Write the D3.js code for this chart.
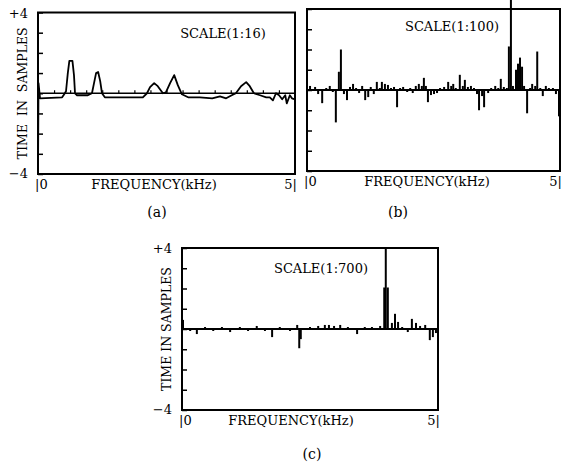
<!DOCTYPE html>
<html>
<head>
<meta charset="utf-8">
<script src="https://cdn.jsdelivr.net/npm/d3@7"></script>
<style>
body { margin: 0; background: #fff; }
text { font-family: "DejaVu Serif", "Liberation Serif", serif; fill: #000; }
</style>
</head>
<body>
<div id="chart"></div>
<script>
// (a) smoothed curve, frequency in kHz / time in samples
var freqA = [0, 0.01, 0.04, 0.47, 0.51, 0.545, 0.58, 0.61, 0.67, 0.70, 0.72, 0.76, 0.97, 1.05, 1.09, 1.13, 1.17, 1.21, 1.245, 1.30,
  2.04, 2.12, 2.18, 2.26, 2.33, 2.43, 2.49, 2.57, 2.65, 2.72, 2.80, 2.92, 3.15, 3.39, 3.54, 3.66, 3.77, 3.85, 3.95, 4.05,
  4.12, 4.20, 4.32, 4.44, 4.51, 4.57, 4.63, 4.69, 4.75, 4.81, 4.84, 4.90, 4.94, 5.0];
var valA = [-4, 0.5, -0.25, -0.2, -0.05, 0.1, 1.0, 1.6, 1.6, 0.9, 0.0, -0.1, -0.1, 0.0, 0.5, 1.0, 1.05, 0.6, 0.0, -0.2,
  -0.2, 0.0, 0.3, 0.5, 0.35, 0.0, 0.05, 0.5, 0.9, 0.4, -0.05, -0.2, -0.2, -0.25, -0.15, -0.25, -0.1, 0.0, 0.35, 0.55,
  0.35, 0.0, -0.1, -0.2, -0.2, -0.35, 0.0, -0.1, -0.3, -0.1, -0.5, -0.1, -0.25, -0.3];

// (b) spikes
var freqB = [0.06, 0.16, 0.22, 0.30, 0.38, 0.45, 0.51, 0.57, 0.63, 0.67, 0.73, 0.79, 0.85, 0.91, 0.97, 1.03, 1.09, 1.15, 1.21, 1.26,
  1.32, 1.38, 1.44, 1.48, 1.54, 1.60, 1.66, 1.72, 1.78, 1.84, 1.90, 1.98, 2.04, 2.09, 2.15, 2.21, 2.27, 2.31, 2.35, 2.39,
  2.45, 2.51, 2.57, 2.63, 2.71, 2.79, 2.85, 2.89, 2.94, 3.02, 3.08, 3.12, 3.18, 3.24, 3.30, 3.36, 3.40, 3.46, 3.50, 3.58,
  3.64, 3.72, 3.78, 3.83, 3.89, 3.95, 3.99, 4.03, 4.07, 4.13, 4.17, 4.21, 4.25, 4.29, 4.35, 4.41, 4.45, 4.51, 4.55, 4.61,
  4.66, 4.72, 4.78, 4.86, 4.92, 4.98, 5.0];
var valB = [0.2, 0.15, -0.2, -0.65, 0.1, 0.2, -0.1, -1.6, 0.9, 2.0, -0.2, -0.5, 0.15, 0.3, 0.1, -0.15, 0.2, -0.5, -0.35, 0.15,
  -0.2, 0.4, 0.1, 0.4, 0.3, 0.25, 0.1, 0.15, -0.85, 0.1, 0.15, -0.1, 0.1, -0.15, 0.2, 0.3, 0.2, 0.6, 0.2, -0.6,
  -0.25, -0.2, -0.15, 0.1, 0.15, 0.4, 0.2, 0.3, 0.1, 0.75, 0.2, 0.5, 0.15, 0.2, 0.1, -0.2, -1.0, -0.3, -0.85, -0.15,
  0.1, 0.2, 0.1, 0.55, 0.15, 0.1, 2.15, 4.45, 0.2, 1.0, 1.3, 1.6, 1.15, 0.2, -1.15, 0.1, 0.3, 0.2, 1.9, 0.1,
  -0.3, 0.2, 0.1, 0.1, -0.2, -1.3, -0.5];

// (c) spikes
var freqC = [0.02, 0.16, 0.29, 0.45, 0.61, 0.78, 0.94, 1.13, 1.29, 1.46, 1.62, 1.76, 1.91, 2.11, 2.25, 2.29, 2.32, 2.50, 2.66, 2.79,
  2.87, 2.97, 3.09, 3.24, 3.42, 3.57, 3.71, 3.87, 3.95, 3.98, 4.02, 4.10, 4.16, 4.22, 4.30, 4.41, 4.49, 4.57, 4.65, 4.75,
  4.84, 4.90, 4.96];
var valC = [0.45, -0.1, -0.25, 0.1, -0.1, 0.1, -0.15, 0.1, -0.1, 0.15, -0.1, -0.4, 0.1, -0.1, 0.2, -0.95, -0.5, 0.1, 0.15, 0.2,
  0.2, 0.15, 0.2, 0.1, -0.25, 0.1, 0.1, 0.15, 2.05, 4.0, 2.05, 0.3, 0.75, 0.35, 0.1, -0.15, 0.5, 0.3, 0.15, 0.2,
  -0.55, -0.4, -0.2];

var yTicks = [-4, -3, -2, -1, 0, 1, 2, 3, 4];
var yTickLabels = ["+4", "\u22124"];
var xTickLabels = ["|0", "5|"];
var xTitle = "FREQUENCY(kHz)";
var yTitle = "TIME IN SAMPLES";
var scaleLabels = ["SCALE(1:16)", "SCALE(1:100)", "SCALE(1:700)"];
var captions = ["(a)", "(b)", "(c)"];

var svg = d3.select('#chart').append('svg').attr('width', 562).attr('height', 466);

var panels = [
  {left: 38, right: 295, top: 12.5, bottom: 174, yLabel: true, cap: [157, 217], scl: [223, 38], tx: 154, kind: 'curve'},
  {left: 307, right: 560, top: 9, bottom: 171, yLabel: false, cap: [398, 217], scl: [452, 31], tx: 427, kind: 'spike'},
  {left: 182, right: 438, top: 248, bottom: 410, yLabel: true, cap: [312, 459], scl: [321, 273], tx: 291, kind: 'spike'}
];

panels.forEach(function(p, i) {
  var g = svg.append('g');
  var x = d3.scaleLinear().domain([0, 5]).range([p.left, p.right]);
  var y = d3.scaleLinear().domain([-4, 4]).range([p.bottom, p.top]);

  // inward ticks on left edge
  var ax = g.append('g').attr('transform', 'translate(' + p.left + ',0)')
    .call(d3.axisRight(y).tickValues(yTicks).tickSize(5).tickFormat(''));
  ax.select('.domain').remove();
  ax.selectAll('line').attr('stroke', '#000').attr('stroke-width', 1.5);

  // zero line
  g.append('line').attr('x1', x(0)).attr('x2', x(5)).attr('y1', y(0)).attr('y2', y(0))
    .attr('stroke', '#000').attr('stroke-width', p.kind == 'curve' ? 1.3 : 2.2);

  if (p.kind == 'curve') {
    // small marks along the zero line
    var zt = g.append('g').attr('transform', 'translate(0,' + y(0) + ')')
      .call(d3.axisTop(x).tickValues(d3.range(1, 16).map(function(k) { return k * 5 / 16; })).tickSize(3).tickFormat(''));
    zt.select('.domain').remove();
    zt.selectAll('line').attr('stroke', '#000').attr('stroke-width', 1.2);

    g.append('path').datum(d3.zip(freqA, valA))
      .attr('fill', 'none').attr('stroke', '#000').attr('stroke-width', 1.8)
      .attr('stroke-linejoin', 'round')
      .attr('d', d3.line().x(function(d) { return x(d[0]); }).y(function(d) { return y(d[1]); }));
  } else {
    var data = i == 1 ? d3.zip(freqB, valB) : d3.zip(freqC, valC);
    g.selectAll('line.spike').data(data).enter().append('line').attr('class', 'spike')
      .attr('x1', function(d) { return x(d[0]); })
      .attr('x2', function(d) { return x(d[0]); })
      .attr('y1', y(0))
      .attr('y2', function(d) { return y(d[1]); })
      .attr('stroke', '#000').attr('stroke-width', 2);
  }

  // frame
  g.append('rect').attr('x', p.left).attr('y', p.top)
    .attr('width', p.right - p.left).attr('height', p.bottom - p.top)
    .attr('fill', 'none').attr('stroke', '#000').attr('stroke-width', 2);

  if (p.yLabel) {
    g.append('text').attr('x', p.left - 10).attr('y', p.top + 5).attr('text-anchor', 'end')
      .style('font-size', '13px').text(yTickLabels[0]);
    g.append('text').attr('x', p.left - 10).attr('y', p.bottom + 4).attr('text-anchor', 'end')
      .style('font-size', '13px').text(yTickLabels[1]);
    g.append('text')
      .attr('transform', 'translate(' + (p.left - 15) + ',' + ((p.top + p.bottom) / 2) + ') rotate(-90)')
      .attr('text-anchor', 'middle').attr('dy', '0.35em')
      .style('font-size', '12.5px').style('word-spacing', i == 0 ? '4px' : '0px')
      .text(yTitle);
  }

  var ly = p.bottom + 15;
  g.append('text').attr('x', p.left - 3).attr('y', ly).attr('text-anchor', 'start')
    .style('font-size', '13px').text(xTickLabels[0]);
  g.append('text').attr('x', p.right + 2).attr('y', ly).attr('text-anchor', 'end')
    .style('font-size', '13px').text(xTickLabels[1]);
  g.append('text').attr('x', p.tx).attr('y', ly)
    .attr('text-anchor', 'middle').style('font-size', '13px')
    .text(xTitle);

  g.append('text').attr('x', p.scl[0]).attr('y', p.scl[1]).attr('text-anchor', 'middle')
    .style('font-size', '13px').text(scaleLabels[i]);

  g.append('text').attr('x', p.cap[0]).attr('y', p.cap[1]).attr('text-anchor', 'middle')
    .style('font-size', '14px').text(captions[i]);
});
</script>
</body>
</html>
